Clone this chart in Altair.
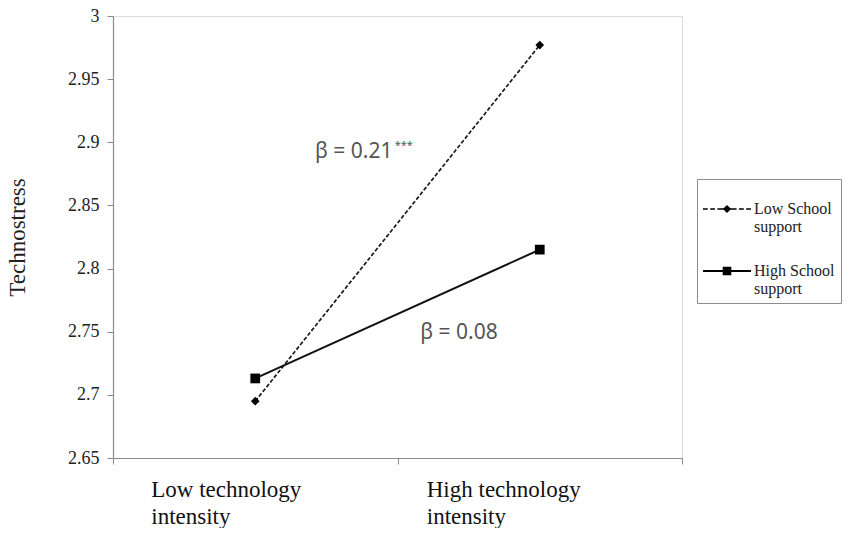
import altair as alt
import pandas as pd

# ---- data ----
categories = ["Low technology intensity", "High technology intensity"]
cat_pos = [0.5, 1.5]
series_names = ["Low School support", "High School support"]
low_support = [2.695, 2.977]
high_support = [2.713, 2.815]

y_ticks = [2.65, 2.7, 2.75, 2.8, 2.85, 2.9, 2.95, 3.0]

annot_text = ["β = 0.21", "***", "β = 0.08"]
annot_x = [0.71, 0.99, 1.08]
annot_y = [2.892, 2.897, 2.749]
annot_size = [21, 11, 21]

rows = []
for s, vals in zip(series_names, [low_support, high_support]):
    for c, p, v in zip(categories, cat_pos, vals):
        rows.append({"series": s, "cat": c, "x": p, "y": v})
df = pd.DataFrame(rows)

lab_df = pd.DataFrame({"cat": categories, "x": cat_pos,
                       "label": ["Low technology\nintensity", "High technology\nintensity"]})
ann_df = pd.DataFrame({"text": annot_text, "x": annot_x, "y": annot_y, "size": annot_size})

AXIS_GREY = "#8a8a8a"
SERIF = "Liberation Serif"

xscale = alt.Scale(domain=[0, 2], nice=False, zero=False)
yscale = alt.Scale(domain=[2.65, 3.0], nice=False, zero=False)

base = alt.Chart(df)

x_enc = alt.X("x:Q", scale=xscale,
              axis=alt.Axis(values=[0, 1, 2], labels=False, title=None, grid=False,
                            domainColor=AXIS_GREY, tickColor=AXIS_GREY, tickSize=6,
                            domainWidth=1.2))
y_enc = alt.Y("y:Q", scale=yscale,
              axis=alt.Axis(values=y_ticks, format=".2~f", title="Technostress", grid=False,
                            domainColor=AXIS_GREY, tickColor=AXIS_GREY, tickSize=6,
                            domainWidth=1.2,
                            labelFont=SERIF, labelFontSize=18, labelColor="#222",
                            labelPadding=8,
                            titleFont=SERIF, titleFontSize=23, titleFontWeight="normal",
                            titleColor="#222", titleX=-96, titleBaseline="middle",
                            titleAngle=-90))

low_data = base.transform_filter(alt.datum.series == series_names[0])
high_data = base.transform_filter(alt.datum.series == series_names[1])

line_low = low_data.mark_line(color="#1a1a1a", strokeDash=[4, 2], strokeWidth=1.7).encode(
    x=x_enc, y=y_enc)
line_high = high_data.mark_line(color="#111", strokeWidth=2).encode(x="x:Q", y="y:Q")

pts_low = low_data.mark_point(
    shape="diamond", filled=True, color="black", size=75, opacity=1
).encode(x="x:Q", y="y:Q")

pts_high = high_data.mark_point(
    shape="square", filled=True, color="black", size=95, opacity=1
).encode(x="x:Q", y="y:Q")


# legend symbols: line segments drawn as thin filled rectangles plus marker
def seg(a, b, t):
    return f"M{a},{-t}H{b}V{t}H{a}Z"


low_path = "".join(seg(a, b, 0.032) for a, b in
                   [(-1, -0.8), (-0.7, -0.5), (-0.4, -0.15), (0.15, 0.4), (0.5, 0.7), (0.8, 1)])
low_path += "M-0.17,0L0,-0.17L0.17,0L0,0.17Z"
high_path = seg(-1, 1, 0.042) + "M-0.18,-0.18H0.18V0.18H-0.18Z"

legend_layer = base.transform_filter("false").mark_point(
    filled=True, fill="black", opacity=1
).encode(
    x="x:Q", y="y:Q",
    shape=alt.Shape("series:N",
                    scale=alt.Scale(domain=series_names, range=[low_path, high_path]),
                    legend=alt.Legend(
                        title=None, orient="none", legendX=584, legendY=163,
                        strokeColor="#8c8c8c", fillColor="white", padding=6,
                        symbolSize=2304, symbolStrokeWidth=0,
                        symbolFillColor="black", symbolOpacity=1,
                        labelFont=SERIF, labelFontSize=16, labelColor="#222",
                        labelOffset=3, rowPadding=12, labelBaseline="middle",
                        labelExpr="datum.label == 'Low School support' ? ['Low School', 'support'] : ['High School', 'support']",
                    )),
)

xlab_low = alt.Chart(lab_df).transform_filter(alt.datum.x < 1).mark_text(
    font=SERIF, fontSize=23, color="#111", align="left", baseline="top",
    lineBreak="\n", lineHeight=27, dx=-104
).encode(x="x:Q", y=alt.value(463), text="label:N")

xlab_high = alt.Chart(lab_df).transform_filter(alt.datum.x > 1).mark_text(
    font=SERIF, fontSize=23, color="#111", align="left", baseline="top",
    lineBreak="\n", lineHeight=27, dx=-113
).encode(x="x:Q", y=alt.value(463), text="label:N")

annots = alt.Chart(ann_df).mark_text(
    font="Noto Sans", color="#555", align="left", baseline="middle"
).encode(
    x="x:Q", y="y:Q", text="text:N",
    size=alt.Size("size:Q", scale=None, legend=None),
)

chart = alt.layer(line_low, line_high, pts_low, pts_high, legend_layer,
                  xlab_low, xlab_high, annots).properties(
    width=569, height=442,
    autosize=alt.AutoSizeParams(type="none"),
    padding={"left": 105, "top": 8, "right": 161, "bottom": 70},
).configure_view(stroke=None).configure(background="white")

chart.save("out.html", embed_options={"renderer": "svg", "actions": False})
